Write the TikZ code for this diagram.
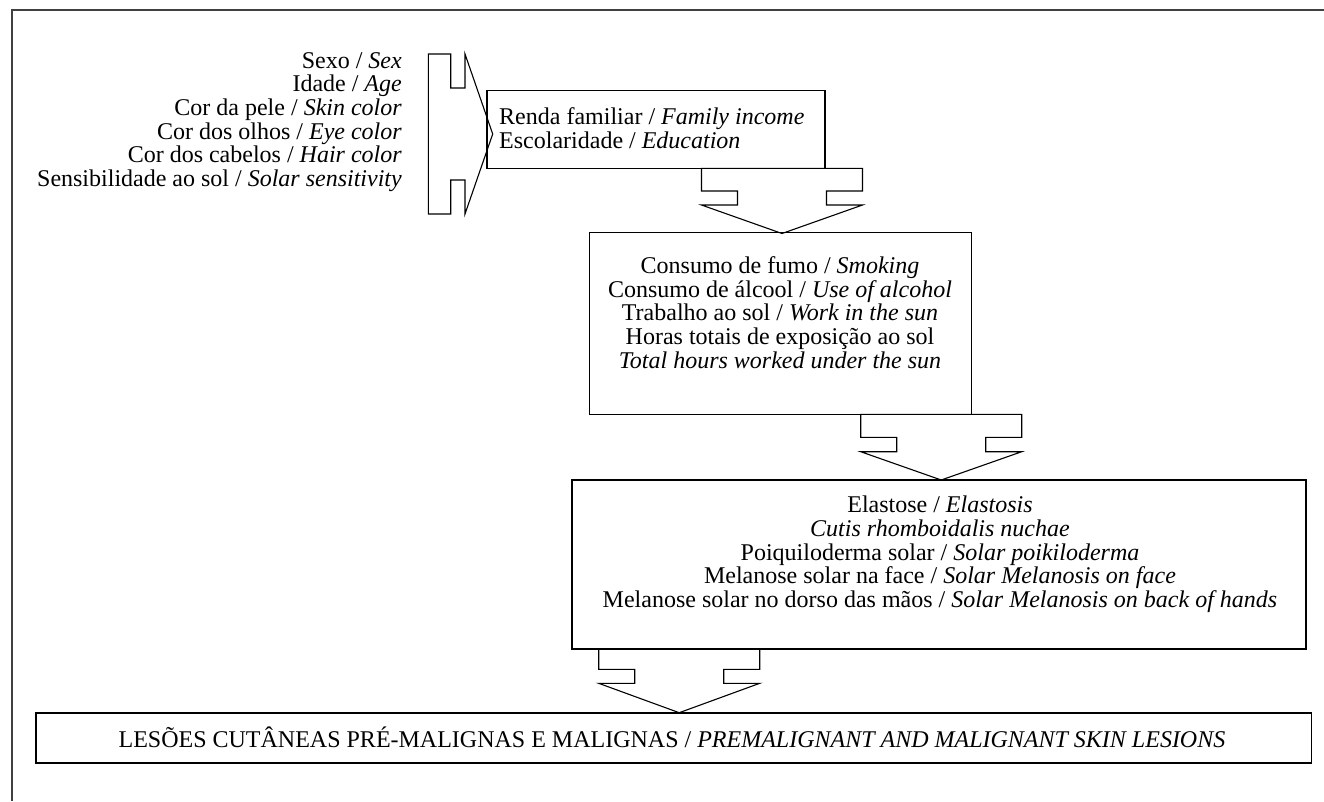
\documentclass[tikz,border=0pt]{standalone}
\usepackage{fontspec}
\setmainfont{Liberation Serif}
\newcommand\dnarrow[5]{% cx, top, notch y, notch bottom, tip
  \draw[shape line] ({#1-80.5},#2) -- ({#1-80.5},#3) -- ({#1-44.5},#3) -- ({#1-44.5},#4) -- ({#1-80.5},#4)
    -- (#1,#5) -- ({#1+80.5},#4) -- ({#1+44.5},#4) -- ({#1+44.5},#3) -- ({#1+80.5},#3) -- ({#1+80.5},#2) -- cycle;}
\tikzset{
  shape line/.style={line width=1.1pt, line join=miter},
  boxnode/.style={draw, line width=1.1pt, inner sep=0pt},
  txt/.style={font=\fontsize{24}{23.7}\selectfont, inner sep=0pt},
}
\begin{document}
\begin{tikzpicture}[x=1pt,y=-1pt]
\useasboundingbox (0,0) rectangle (1324,801);
% outer frame
\draw[line width=1.6pt, black!75] (12,801) -- (12,10) -- (1324,10);
% left list
\node[txt, align=right, anchor=east] (risk) at (402,122) {Sexo / \textit{Sex}\\Idade / \textit{Age}\\Cor da pele / \textit{Skin color}\\Cor dos olhos / \textit{Eye color}\\Cor dos cabelos / \textit{Hair color}\\Sensibilidade ao sol / \textit{Solar sensitivity}};
% right-pointing block arrow
\draw[shape line] (428.3,54) -- (450.7,54) -- (450.7,88) -- (465,88) -- (465,54) -- (492.7,134)
  -- (465,214) -- (465,180) -- (450.7,180) -- (450.7,214) -- (428.3,214) -- cycle;
% box 1
\node[boxnode, minimum width=338pt, minimum height=77.6pt] (b1) at (656,129.5) {};
\node[txt, align=left, anchor=west] (b1t) at (499,128.5) {Renda familiar / \textit{Family income}\\Escolaridade / \textit{Education}};
% arrow 2
\dnarrow{782}{168.3}{191}{205}{233.5}
% box 2
\node[boxnode, minimum width=382.4pt, minimum height=182pt] (b2) at (780.5,323.3) {};
\node[txt, align=center] (b2t) at (780,312.5) {Consumo de fumo / \textit{Smoking}\\Consumo de álcool / \textit{Use of alcohol}\\Trabalho ao sol / \textit{Work in the sun}\\Horas totais de exposição ao sol\\\textit{Total hours worked under the sun}};
% arrow 3
\dnarrow{941.2}{414.3}{437.3}{451.7}{480}
% box 3
\node[boxnode, minimum width=734pt, minimum height=169pt] (b3) at (939,564.5) {};
\node[txt, align=center] (b3t) at (940,554.5) {Elastose / \textit{Elastosis}\\\textit{Cutis rhomboidalis nuchae}\\Poiquiloderma solar / \textit{Solar poikiloderma}\\Melanose solar na face / \textit{Solar Melanosis on face}\\Melanose solar no dorso das mãos / \textit{Solar Melanosis on back of hands}};
% arrow 4
\dnarrow{679.2}{649}{669.3}{683.3}{712.7}
% box 4
\node[boxnode, minimum width=1275.7pt, minimum height=50pt] (b4) at (673.85,738) {};
\node[txt] (b4t) at (672,737.5) {LESÕES CUTÂNEAS PRÉ-MALIGNAS E MALIGNAS / \textit{PREMALIGNANT AND MALIGNANT SKIN LESIONS}};
\end{tikzpicture}
\end{document}
